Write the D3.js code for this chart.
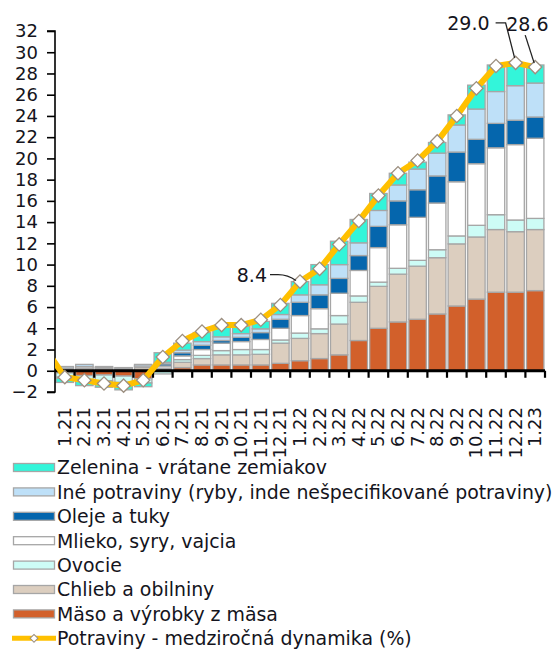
<!DOCTYPE html>
<html><head><meta charset="utf-8">
<script src="https://cdn.jsdelivr.net/npm/d3@7"></script>
<style>
body{margin:0;background:#fff}
svg{display:block}
text{font-family:"DejaVu Sans",Verdana,sans-serif;fill:#141420}
</style>
</head><body>
<svg id="c" width="556" height="650"></svg>
<script>
const months = ["1.21","2.21","3.21","4.21","5.21","6.21","7.21","8.21","9.21","10.21","11.21","12.21",
  "1.22","2.22","3.22","4.22","5.22","6.22","7.22","8.22","9.22","10.22","11.22","12.22","1.23"];
const maso     = [-0.2,-0.45,-0.4,-0.5,-0.75, 0.1,0.3,0.55,0.55,0.55,0.55,0.7, 0.95,1.15,1.5,2.85,4.0,4.6,4.85,5.35,6.1,6.75,7.4,7.4,7.55];
const chlieb   = [0.15,0.25,0.2,0.15,0.3, 0.15,0.5,0.6,0.95,0.95,1.0,1.9, 2.1,2.35,2.9,3.6,3.95,4.5,5.0,5.3,5.85,5.85,5.9,5.7,5.75];
const ovocie   = [-0.4,-0.4,-0.55,-0.6,-0.4, -0.3,0.25,0.3,0.4,0.5,0.45,0.3, 0.5,0.45,0.8,0.6,0.4,0.55,0.55,0.75,0.75,1.1,1.4,1.1,1.05];
const mlieko   = [0.1,0.15,0.1,0.1,0.15, 0.2,0.35,0.55,0.7,0.75,0.95,1.1, 1.65,1.9,2.1,2.4,3.25,4.1,4.05,4.4,5.1,5.8,6.3,7.1,7.55];
const oleje    = [-0.1,0,0,0,0, 0.2,0.3,0.4,0.25,0.4,0.65,0.85, 1.25,1.3,1.4,1.4,2.0,2.25,2.6,2.55,2.8,2.3,2.3,2.3,2.0];
const ine      = [0.15,0.2,0.1,0.05,0.15, 0.15,0.25,0.35,0.35,0.35,0.35,0.45, 0.7,0.95,1.3,1.2,1.5,1.5,1.95,2.15,2.55,2.85,3.0,3.25,3.2];
const zelenina = [-0.4,-0.55,-0.6,-0.7,-0.35, 0.9,0.65,0.85,0.9,0.7,0.7,1.05, 1.25,1.9,2.2,2.2,1.6,1.1,0.65,1.0,0.95,2.25,2.5,2.15,1.7];
const potraviny = [-0.6,-0.9,-1.2,-1.4,-0.9, 1.3,2.8,3.7,4.3,4.3,4.8,6.2, 8.4,9.6,11.9,14.1,16.5,18.6,19.8,21.6,24.0,26.6,28.7,29.0,28.6];
const potravinyPrev = 2.1; // 12.20, cut off at the left edge
const yTicks = [-2,0,2,4,6,8,10,12,14,16,18,20,22,24,26,28,30,32];

const seriesKeys = ["maso","chlieb","ovocie","mlieko","oleje","ine","zelenina"];
const seriesNames = {
  zelenina:"Zelenina - vrátane zemiakov",
  ine:"Iné potraviny (ryby, inde nešpecifikované potraviny)",
  oleje:"Oleje a tuky",
  mlieko:"Mlieko, syry, vajcia",
  ovocie:"Ovocie",
  chlieb:"Chlieb a obilniny",
  maso:"Mäso a výrobky z mäsa"
};
const lineName = "Potraviny - medziročná dynamika (%)";
const colors = {zelenina:"#33F5DA", ine:"#BEE0F8", oleje:"#0566AD", mlieko:"#FFFFFF",
  ovocie:"#CDFCF6", chlieb:"#DCCEBF", maso:"#D2602B"};
const annotations = [{m:"1.22", label:"8.4"},{m:"12.22", label:"29.0"},{m:"1.23", label:"28.6"}];

const raw = {maso,chlieb,ovocie,mlieko,oleje,ine,zelenina};
const table = months.map((m,i)=>{const o={month:m}; seriesKeys.forEach(k=>o[k]=raw[k][i]); return o;});

const svg = d3.select("#c");
const x = d3.scaleBand().domain(months).range([55,545]).paddingInner(0.06).paddingOuter(0.03);
const y = d3.scaleLinear().domain([-2,32]).range([392,31]);
const bw = x.bandwidth(), step = x.step();
const cx = m => x(m) + bw/2;

const stack = d3.stack().keys(seriesKeys).offset(d3.stackOffsetDiverging)(table);

// bars
svg.append("g").selectAll("g").data(stack).join("g")
  .attr("fill", s=>colors[s.key])
  .selectAll("rect").data(s=>s).join("rect")
  .attr("x", d=>x(d.data.month)+0.5)
  .attr("width", bw-1)
  .attr("y", d=>y(Math.max(d[0],d[1])))
  .attr("height", d=>Math.abs(y(d[0])-y(d[1])))
  .attr("stroke","#A6A6A6").attr("stroke-width",1.3);

// y axis
const ya = svg.append("g").attr("transform","translate(55,0)")
  .call(d3.axisLeft(y).tickValues(yTicks).tickSize(8).tickPadding(9).tickFormat(d3.format("d")));
ya.select(".domain").attr("stroke","#000").attr("stroke-width",1.6).attr("d",`M-8,${y(32)}H0V${y(-2)}H-8`);
ya.selectAll(".tick line").attr("stroke","#000").attr("stroke-width",1.6);
ya.selectAll(".tick text").attr("font-size",18).attr("font-family","DejaVu Sans").attr("fill","#141420");

// x axis at zero
const y0 = y(0);
svg.append("line").attr("x1",55).attr("x2",545).attr("y1",y0).attr("y2",y0)
  .attr("stroke","#000").attr("stroke-width",3);
const bounds = months.map(m=>x(m)-step*x.paddingInner()/2).concat([x(months[months.length-1])+bw+step*x.paddingInner()/2]);
svg.append("g").selectAll("line").data(bounds.slice(1)).join("line")
  .attr("x1",d=>d).attr("x2",d=>d).attr("y1",y0).attr("y2",y0+7)
  .attr("stroke","#000").attr("stroke-width",2.2);

// x labels
svg.append("g").selectAll("text").data(months).join("text")
  .attr("transform", m=>`translate(${cx(m)+6},407) rotate(-90)`)
  .attr("text-anchor","end").attr("font-size",18).text(m=>m);

// line
svg.append("defs").append("clipPath").attr("id","clip")
  .append("rect").attr("x",55).attr("y",0).attr("width",501).attr("height",650);
const pts = [[cx(months[0])-step, y(potravinyPrev)]].concat(months.map((m,i)=>[cx(m), y(potraviny[i])]));
svg.append("path").attr("clip-path","url(#clip)")
  .attr("d", d3.line()(pts)).attr("fill","none").attr("stroke","#FFC000")
  .attr("stroke-width",6).attr("stroke-linejoin","round");
const diamond = d3.symbol(d3.symbolSquare, 88)();
svg.append("g").selectAll("path").data(months).join("path")
  .attr("d", diamond)
  .attr("transform",(m,i)=>`translate(${cx(m)},${y(potraviny[i])}) rotate(45)`)
  .attr("fill","#fff").attr("stroke","#9C8F80").attr("stroke-width",1.3);

// annotations
const ann = svg.append("g");
const aOff = {
  "8.4":  {tx:-33, ty:0.5, anchor:"end", path:(px,py)=>`M${px-30},${py-7}L${px-22},${py-7}Q${px-12},${py-7} ${px-4},${py-1}`},
  "29.0": {tx:-26, ty:-32.5, anchor:"end", path:(px,py)=>`M${px-20},${py-40}L${px-10},${py-40}L${px-1},${py-5}`},
  "28.6": {tx:-29, ty:-36.5, anchor:"start", path:(px,py)=>`M${px-10},${py-32}L${px-1},${py-4}`}
};
annotations.forEach(a=>{
  const i = months.indexOf(a.m);
  const px = cx(a.m), py = y(potraviny[i]);
  const o = aOff[a.label];
  ann.append("path").attr("d",o.path(px,py)).attr("fill","none").attr("stroke","#222").attr("stroke-width",1.3);
  ann.append("text").attr("x",px+o.tx).attr("y",py+o.ty).attr("text-anchor",o.anchor)
    .attr("font-size",19).text(a.label);
});

// legend
const legendOrder = ["zelenina","ine","oleje","mlieko","ovocie","chlieb","maso"];
const lg = svg.append("g");
legendOrder.forEach((k,i)=>{
  const cy = 467.5 + i*24.4;
  lg.append("rect").attr("x",13.5).attr("y",cy-4).attr("width",41).attr("height",8)
    .attr("fill",colors[k]).attr("stroke","#A6A6A6").attr("stroke-width",1.3);
  lg.append("text").attr("x",57).attr("y",cy).attr("dy","0.36em").attr("font-size",18.9).text(seriesNames[k]);
});
{
  const cy = 467.5 + 7*24.4;
  lg.append("line").attr("x1",12).attr("x2",56).attr("y1",cy).attr("y2",cy).attr("stroke","#FFC000").attr("stroke-width",5);
  lg.append("path").attr("d",d3.symbol(d3.symbolSquare,30)()).attr("transform",`translate(34,${cy}) rotate(45)`)
    .attr("fill","#fff").attr("stroke","#9C8F80").attr("stroke-width",1);
  lg.append("text").attr("x",57).attr("y",cy).attr("dy","0.36em").attr("font-size",18.9).text(lineName);
}
</script>
</body></html>
